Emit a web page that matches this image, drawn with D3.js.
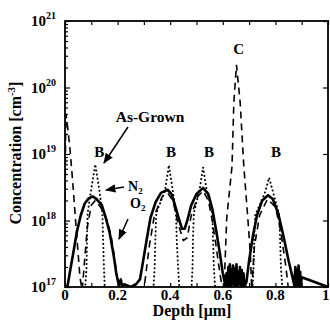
<!DOCTYPE html>
<html><head><meta charset="utf-8">
<script src="https://cdn.jsdelivr.net/npm/d3@7"></script>
<style>
html,body{margin:0;padding:0;background:#fff;}
svg{display:block;}
text{font-family:"Liberation Serif","DejaVu Serif",serif;font-weight:bold;fill:#000;}
</style></head><body>
<svg id="c" width="330" height="320"></svg>
<script>
// ---- data ----
const xTickValues = [0, 0.2, 0.4, 0.6, 0.8, 1];
const xTickLabels = ["0", "0.2", "0.4", "0.6", "0.8", "1"];
const yTickExponents = [17, 18, 19, 20, 21];

// As-Grown (dotted)
const asGrownDepth = [0.0,0.075,0.082,0.084,0.086,0.10,0.115,0.13,0.142,0.145,0.148,0.152,
  0.335,0.341,0.344,0.347,0.38,0.395,0.41,0.422,0.425,0.43,0.436,
  0.48,0.485,0.487,0.49,0.512,0.525,0.538,0.56,0.563,0.566,0.572,
  0.712,0.717,0.72,0.723,0.76,0.776,0.792,0.815,0.818,0.821,0.828,1.0];
const asGrownConc = [8e16,8e16,2e17,6e17,1.3e18,3e18,7e18,3e18,1.3e18,5e17,2e17,8e16,
  8e16,2e17,6e17,1.3e18,2.8e18,6.8e18,2.8e18,1.3e18,5e17,2e17,8e16,
  8e16,2e17,6e17,1.3e18,3e18,6.3e18,3e18,1.3e18,5e17,2e17,8e16,
  8e16,2e17,6e17,1.2e18,2.6e18,4.4e18,2.6e18,1.2e18,5e17,2e17,8e16,8e16];

// N2 anneal (solid)
const n2Depth = [0.0,0.01,0.02,0.03,0.046,0.06,0.075,0.09,0.105,0.12,0.14,0.155,0.17,0.185,0.195,0.205,0.212,0.218,0.225,0.25,0.27,0.285,
  0.295,0.31,0.325,0.345,0.365,0.39,0.405,0.42,0.435,0.445,0.455,0.465,0.48,0.5,0.525,0.545,0.56,0.575,0.59,0.6,0.61,
  0.614,0.618,0.621,0.624,0.627,0.63,0.633,0.636,0.639,0.642,0.645,0.648,0.652,0.655,0.658,0.662,0.665,0.668,0.672,0.675,0.679,0.682,
  0.69,0.7,0.715,0.73,0.75,0.772,0.79,0.81,0.83,0.85,0.865,0.872,0.876,0.879,0.882,0.885,0.888,0.891,0.894,0.897,0.9,1.0];
const n2Conc = [1e17,1.05e17,1.8e17,3e17,7e17,1.2e18,1.8e18,2.15e18,2.3e18,2.1e18,1.7e18,1.1e18,6.5e17,3e17,1.6e17,1.05e17,1.3e17,1e17,1.1e17,1e17,1.1e17,1.3e17,
  2.2e17,5e17,1.1e18,1.9e18,2.6e18,2.9e18,2.5e18,1.6e18,1e18,7.5e17,7.5e17,1e18,1.7e18,2.5e18,3.1e18,2.5e18,1.5e18,7e17,3e17,1.6e17,1.05e17,
  1.6e17,1e17,2e17,1.05e17,2.2e17,1e17,1.8e17,1.1e17,2.1e17,1e17,1.9e17,1.05e17,2.2e17,1e17,1.7e17,1.1e17,2e17,1e17,1.8e17,1.05e17,1.6e17,1e17,
  1.2e17,2.5e17,6e17,1.2e18,2e18,2.4e18,2.1e18,1.3e18,6e17,2.5e17,1.4e17,1.05e17,2e17,1e17,1.8e17,1.05e17,2.1e17,1e17,1.7e17,1.05e17,1.4e17,1e17];

// O2 anneal (dashed), incl. surface and C peak
const o2Depth = [0.0,0.003,0.008,0.019,0.03,0.038,0.048,0.057,0.065,
  0.07,0.085,0.1,0.115,0.135,0.16,0.175,0.19,0.2,0.21,
  0.3,0.32,0.34,0.37,0.39,0.41,0.43,0.45,0.465,0.48,0.505,0.525,0.545,0.56,0.575,0.59,0.6,
  0.605,0.615,0.635,0.642,0.652,0.666,0.68,0.695,0.705,0.71,
  0.72,0.74,0.77,0.8,0.82,0.84,0.85,1.0];
const o2Conc = [2e18,4e19,3e19,1.2e19,3.5e18,1.3e18,4e17,1.4e17,9e16,
  1.5e17,8e17,1.7e18,2e18,1.6e18,1e18,6e17,2.5e17,1.2e17,9e16,
  9e16,4e17,1.2e18,2.3e18,2.6e18,2e18,9e17,5e17,5.5e17,1.2e18,2.3e18,2.8e18,2e18,1e18,4e17,1.5e17,9e16,
  1e17,1.1e18,6.5e18,6e19,2.2e20,6e19,6.5e18,1.1e18,3e17,9e16,
  4e17,1.2e18,2.1e18,1.6e18,7e17,2e17,9e16,9e16];

// ---- drawing ----
const svg = d3.select("#c");
const L = 65, R = 328, T = 21, B = 287;
const x = d3.scaleLinear().domain([0, 1]).range([L, R]);
const y = d3.scaleLog().domain([1e17, 1e21]).range([B, T]);

svg.append("clipPath").attr("id", "clip").append("rect")
  .attr("x", L).attr("y", T).attr("width", R - L).attr("height", B - T);

const line = d3.line().x(d => x(d[0])).y(d => y(d[1]));
const g = svg.append("g").attr("clip-path", "url(#clip)");

g.append("path").datum(d3.zip(asGrownDepth, asGrownConc)).attr("d", line)
  .attr("fill", "none").attr("stroke", "#000").attr("stroke-width", 2)
  .attr("stroke-linecap", "round").attr("stroke-dasharray", "0.1,4");
g.append("path").datum(d3.zip(o2Depth, o2Conc)).attr("d", line)
  .attr("fill", "none").attr("stroke", "#000").attr("stroke-width", 1.6)
  .attr("stroke-dasharray", "7,5");
g.append("path").datum(d3.zip(n2Depth, n2Conc)).attr("d", line)
  .attr("fill", "none").attr("stroke", "#000").attr("stroke-width", 2.6)
  .attr("stroke-linejoin", "round");

// axes
const xMinor = d3.range(0, 1.0001, 0.1);
svg.append("g").attr("transform", `translate(0,${B})`)
  .call(d3.axisBottom(x).tickValues(xMinor).tickSize(-4).tickFormat(""))
  .call(a => a.select(".domain").remove());
svg.append("g").attr("transform", `translate(0,${T})`)
  .call(d3.axisTop(x).tickValues(xMinor).tickSize(-4).tickFormat(""))
  .call(a => a.select(".domain").remove());

const decades = yTickExponents.map(e => Math.pow(10, e));
const minors = [];
for (let e = 17; e < 21; e++) for (let k = 2; k < 10; k++) minors.push(k * Math.pow(10, e));
svg.append("g").attr("transform", `translate(${L},0)`)
  .call(d3.axisLeft(y).tickValues(minors).tickSize(-3).tickFormat(""))
  .call(a => a.select(".domain").remove());
svg.append("g").attr("transform", `translate(${L},0)`)
  .call(d3.axisLeft(y).tickValues(decades).tickSize(-5).tickFormat(""))
  .call(a => a.select(".domain").remove());
svg.append("g").attr("transform", `translate(${R},0)`)
  .call(d3.axisRight(y).tickValues(decades).tickSize(-5).tickFormat(""))
  .call(a => a.select(".domain").remove());
svg.selectAll(".tick line").attr("stroke", "#000").attr("stroke-width", 1.2);

svg.append("rect").attr("x", L).attr("y", T).attr("width", R - L).attr("height", B - T)
  .attr("fill", "none").attr("stroke", "#000").attr("stroke-width", 1.8);

// tick labels
svg.append("g").selectAll("text").data(xTickValues).join("text")
  .attr("x", d => d === 1 ? 329.5 : x(d)).attr("y", 300)
  .attr("text-anchor", d => d === 1 ? "end" : "middle")
  .attr("font-size", 15).text((d, i) => xTickLabels[i]);

const yl = svg.append("g").selectAll("text").data(yTickExponents).join("text")
  .attr("x", 56).attr("y", d => y(Math.pow(10, d)) + 5).attr("text-anchor", "end")
  .attr("font-size", 15);
yl.append("tspan").text("10");
yl.append("tspan").attr("dy", -7).attr("font-size", 10).text(d => d);

// axis titles
svg.append("text").attr("x", 192).attr("y", 316).attr("text-anchor", "middle")
  .attr("font-size", 16).attr("font-weight", "normal").text("Depth [μm]");
const yt = svg.append("text").attr("transform", "translate(21,153) rotate(-90)")
  .attr("text-anchor", "middle").attr("font-size", 16).attr("font-weight", "normal");
yt.append("tspan").text("Concentration [cm");
yt.append("tspan").attr("dy", -6).attr("font-size", 11).text("-3");
yt.append("tspan").attr("dy", 6).text("]");

// annotations
const peakLabels = [[0.13, 9e18, "B"], [0.403, 9e18, "B"], [0.548, 9e18, "B"], [0.802, 9e18, "B"], [0.66, 3.2e20, "C"]];
svg.append("g").selectAll("text").data(peakLabels).join("text")
  .attr("x", d => x(d[0])).attr("y", d => y(d[1])).attr("text-anchor", "middle")
  .attr("font-size", 15).text(d => d[2]);

svg.append("text").attr("x", 150).attr("y", 122).attr("text-anchor", "middle")
  .attr("font-size", 15.5).text("As-Grown");
const n2 = svg.append("text").attr("x", 128).attr("y", 191).attr("font-size", 14);
n2.append("tspan").text("N");
n2.append("tspan").attr("dy", 3).attr("font-size", 9).text("2");
const o2 = svg.append("text").attr("x", 130).attr("y", 208).attr("font-size", 14);
o2.append("tspan").text("O");
o2.append("tspan").attr("dy", 3).attr("font-size", 9).text("2");

const defs = svg.append("defs");
defs.append("marker").attr("id", "ah").attr("viewBox", "0 0 10 10").attr("refX", 9).attr("refY", 5)
  .attr("markerWidth", 7).attr("markerHeight", 7).attr("orient", "auto")
  .append("path").attr("d", "M0,1 L10,5 L0,9 Z").attr("fill", "#000");
const arrows = [[128, 127, 104, 163], [124, 187, 106, 190], [128, 219, 119, 239]];
svg.append("g").selectAll("line").data(arrows).join("line")
  .attr("x1", d => d[0]).attr("y1", d => d[1]).attr("x2", d => d[2]).attr("y2", d => d[3])
  .attr("stroke", "#000").attr("stroke-width", 1.5).attr("marker-end", "url(#ah)");
</script>
</body></html>
